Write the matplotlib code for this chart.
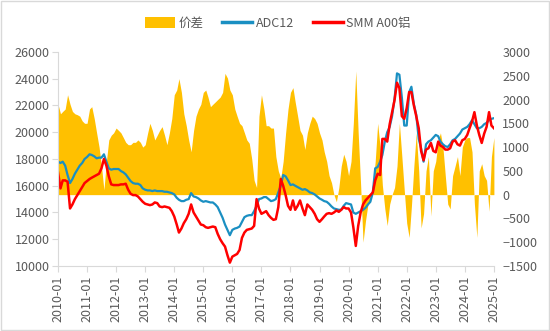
import numpy as np
import pandas as pd
import matplotlib
matplotlib.use("Agg")
import matplotlib.pyplot as plt
from matplotlib.patches import Patch, Rectangle
from matplotlib.lines import Line2D

plt.rcParams['font.family'] = ['Noto Sans CJK SC', 'DejaVu Sans']

# Monthly values, 2010-01 .. 2025-01
adc12 = [
    17800, 17700, 17800, 17500, 16800, 16200, 16500, 16900, 17200, 17500, 17700, 18000,
    18150, 18350, 18300, 18200, 18050, 18100, 18100, 18350, 17800, 17300, 17200, 17250,
    17250, 17250, 17100, 17000, 16850, 16600, 16350, 16200, 16150, 16150, 16050, 15800,
    15700, 15650, 15650, 15600, 15650, 15600, 15600, 15600, 15550, 15550, 15500, 15450,
    15350, 15100, 14950, 14850, 14850, 14950, 15000, 15450, 15200, 15150, 15050, 14900,
    14800, 14850, 14800, 14750, 14750, 14600, 14400, 14000, 13600, 13100, 12700, 12300,
    12700, 12800, 12850, 12950, 13300, 13650, 13750, 13800, 13800, 14100, 14500, 15000,
    15050, 15150, 15150, 15000, 14850, 14900, 15000, 15500, 16000, 16800, 16700, 16400,
    16050, 16100, 16000, 15900, 15800, 15700, 15750, 15650, 15500, 15450, 15350, 15200,
    15050, 14950, 14850, 14800, 14650, 14450, 14300, 14250, 14200, 14200, 14500, 14700,
    14650, 14600, 14000, 13900, 14000, 14100, 14200, 14350, 14600, 14800, 15500, 17300,
    17400, 17800, 18300, 19300, 20000, 20400, 21200, 22500, 24400, 24300, 22600, 20500,
    20500, 23000, 23400, 22100, 21300, 19500, 18800, 17800, 19100, 19300, 19400, 19600,
    19800, 19700, 19300, 19100, 18950, 18900, 19100, 19400, 19500, 19700, 19900, 20200,
    20300, 20400, 20600, 20900, 20600, 20300, 20300, 20400, 20600, 20700, 20900, 21000,
    21050,
]

a00 = [
    17000, 15800, 16400, 16400, 16300, 14300, 14600, 15000, 15300, 15600, 15900, 16200,
    16350, 16500, 16600, 16700, 16800, 16900, 17300, 18000, 17500, 16700, 16100, 16050,
    16050, 16050, 16100, 16100, 16150, 15700, 15400, 15300, 15300, 15200, 15000, 14800,
    14650, 14600, 14550, 14600, 14750, 14700, 14450, 14400, 14450, 14400, 14350, 14100,
    13700, 13100, 12500, 12800, 13200, 13500, 13900, 14600, 14000, 13700, 13400, 13100,
    13050, 12900, 12850, 12900, 12950, 12900, 12400, 12000, 11700, 11450, 10800, 10250,
    10700, 10800, 10900, 11200, 12100, 12500, 12700, 12750, 12800, 13000, 15000, 14300,
    13900, 14000, 14100, 13800, 13600, 13450, 13500, 14400, 16500, 16000, 15300, 14500,
    14200, 14900, 14200, 14500, 14900, 14300, 13800, 14600, 14400, 14200, 13900, 13500,
    13300, 13500, 13700, 13900, 13950, 13900, 14000, 14150, 14050, 14200, 14400, 14300,
    14300, 14000, 12900, 11500, 13000, 14000, 14600, 14900, 15100, 15300, 15500, 16400,
    16900, 16800, 19500, 19500, 19300, 20600, 21500, 22400, 23700, 23300, 21200, 21000,
    21800, 23000, 23000, 22000, 21200, 20300, 18600, 17900, 18700, 18800, 19200, 18600,
    18500, 19300, 19000, 18900, 18700, 18700, 18800, 19300, 19400, 19100, 19000, 19400,
    19500, 19800, 20300, 20800, 21500, 20500, 19800, 19200, 19900, 20400, 21500, 20500,
    20300,
]

spread = [
    1900, 1700, 1750, 1800, 2100, 1900, 1750, 1700, 1680, 1650, 1550, 1500,
    1500, 1800, 1850, 1600, 1300, 1000, 600, 100, 700, 1150, 1250, 1300,
    1400, 1350, 1300, 1200, 1100, 1050, 1050, 1100, 1100, 1150, 1100, 1000,
    1050, 1300, 1500, 1350, 1150, 1250, 1350, 1430, 1250, 1050, 1300, 1600,
    2100, 2200, 2440, 2150, 1700, 1450, 1150, 900, 1350, 1650, 1800, 1900,
    2150, 2200, 2050, 1850, 1900, 1950, 2000, 2050, 2150, 2550, 2450, 2200,
    2100, 1800, 1650, 1500, 1450, 1300, 1150, 1080, 750, 300, 150, 1650,
    2100, 1800, 1450, 1450, 1400, 1400, 800, 500, 350, 700, 1300, 1800,
    2150, 2250, 1950, 1650, 1350, 1250, 950, 1300, 1500, 1650, 1600, 1500,
    1300, 1150, 900, 700, 400, 250, 0, -150, 150, 600, 850, 700,
    400, 700, 1500, 2600, 1300, 200, -1000, -550, -200, -100, 200, 700,
    1500, 1000, 200, -300, -650, -200, 0, 150, 600, 1500, 800, 100,
    -600, -900, -250, 600, 1300, 500, -700, -400, 500, 800, -450, 500,
    700, 1150, 1300, 1000, 400, -200, -300, 400, 600, 800, 400, 1000,
    1150, 1200, 1200, 900, -200, -900, 500, 650, 400, 300, -350, 800,
    1200,
]

dates = pd.date_range('2010-01-01', periods=len(adc12), freq='MS')
tick_years = list(range(2010, 2026))
tick_labels = [f'{y}-01' for y in tick_years]

fig = plt.figure(figsize=(5.5, 3.31), dpi=100)
ax = fig.add_axes([0.1055, 0.1964, 0.7925, 0.6466])
ax2 = ax.twinx()

gold = '#FFC000'
blue = '#1A8FC2'
red = '#FF0000'
gray = '#595959'

# spread fill on ax (right axis), lines on ax2 (left axis) drawn above
ax.fill_between(dates, spread, 0, color=gold, lw=0)
ax.set_ylim(-1500, 3000)
ax.set_yticks(np.arange(-1500, 3001, 500))
ax.yaxis.tick_right()
ax.yaxis.set_label_position('right')

ax2.plot(dates, adc12, color=blue, lw=1.6)
ax2.plot(dates, a00, color=red, lw=1.8)
ax2.set_ylim(10000, 26000)
ax2.set_yticks(np.arange(10000, 26001, 2000))
ax2.yaxis.tick_left()
ax2.yaxis.set_label_position('left')

ax.set_xlim(pd.Timestamp('2010-01-01'), pd.Timestamp('2025-01-01'))
ax.set_xticks([pd.Timestamp(f'{y}-01-01') for y in tick_years])
ax.set_xticklabels(tick_labels)

for a in (ax, ax2):
    for s in a.spines.values():
        s.set_visible(False)
    a.tick_params(colors=gray, labelsize=9, length=0)
    a.patch.set_visible(False)

ax.spines['bottom'].set_visible(True)
ax.spines['bottom'].set_color('#D9D9D9')
ax.tick_params(axis='x', length=4, color='#D9D9D9', pad=3, labelrotation=90)
ax2.spines['left'].set_visible(True)
ax2.spines['left'].set_color('#D9D9D9')
ax2.tick_params(axis='y', length=4, color='#D9D9D9', pad=2)
ax.tick_params(axis='y', pad=6)

handles = [Patch(facecolor=gold, edgecolor='none'),
           Line2D([0], [0], color=blue, lw=2.5),
           Line2D([0], [0], color=red, lw=2.5)]
labels = ['价差', 'ADC12', 'SMM A00铝']
fig.legend(handles, labels, loc='center', bbox_to_anchor=(0.505, 0.93), ncol=3,
           frameon=False, fontsize=9, handlelength=2.4, handleheight=0.9,
           columnspacing=1.5, handletextpad=0.3, labelcolor=gray)

fig.add_artist(Rectangle((0.002, 0.003), 0.996, 0.994, transform=fig.transFigure,
                         fill=False, edgecolor='#D9D9D9', lw=1))

fig.savefig('out.png', dpi=100)
